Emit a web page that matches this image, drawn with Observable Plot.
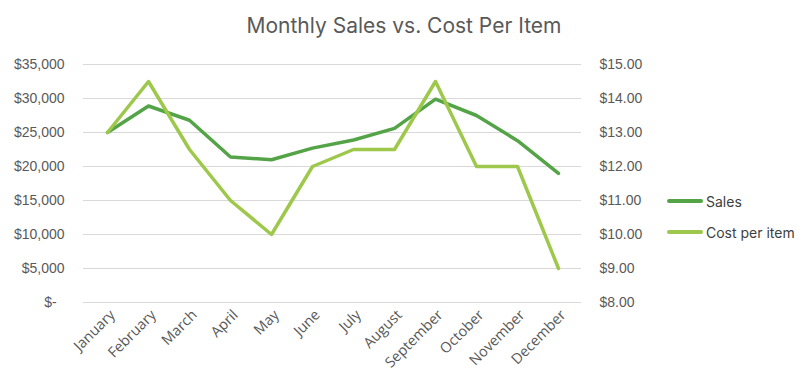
<!DOCTYPE html>
<html>
<head>
<meta charset="utf-8">
<script src="https://cdn.jsdelivr.net/npm/d3@7"></script>
<script src="https://cdn.jsdelivr.net/npm/@observablehq/plot@0.6"></script>
<style>
  body { margin: 0; background: #fff; }
  #wrap { position: relative; width: 804px; height: 380px; overflow: hidden; }
  #title { height: 44px; box-sizing: border-box; padding-top: 15px; text-align: center; padding-left: 4px;
           font-family: Inter, "Open Sans", sans-serif; font-size: 21px; line-height: 1; color: #595959; }
  #legend { position: absolute; left: 667px; top: 192px; font-family: Inter, "Open Sans", sans-serif;
            font-size: 14px; color: #404040; }
  .item { display: flex; align-items: center; height: 18px; margin-bottom: 13px; }
  .sw { width: 36px; height: 4px; border-radius: 2px; margin-right: 3px; }
</style>
</head>
<body>
<div id="wrap">
  <div id="title">Monthly Sales vs. Cost Per Item</div>
  <div id="chart"></div>
  <div id="legend"></div>
</div>
<script>
const months = ["January","February","March","April","May","June","July","August","September","October","November","December"];
const sales = [25000, 28900, 26800, 21400, 21000, 22700, 23900, 25600, 29900, 27500, 23800, 19000];
const cost = [13.0, 14.5, 12.5, 11.0, 10.0, 12.0, 12.5, 12.5, 14.5, 12.0, 12.0, 9.0];
const salesTicks = [0, 5000, 10000, 15000, 20000, 25000, 30000, 35000];
const costTicks = [8, 9, 10, 11, 12, 13, 14, 15];
const seriesNames = ["Sales", "Cost per item"];
const seriesColors = ["#54A447", "#9DC84B"];

// map cost (8..15) onto the sales scale (0..35000)
const costMin = 8, costFactor = 5000;
const toY = c => (c - costMin) * costFactor;

const data = months.map((m, i) => ({month: m, sales: sales[i], cost: cost[i], costY: toY(cost[i])}));

const chart = Plot.plot({
  width: 804,
  height: 336,
  marginTop: 20,
  marginBottom: 78,
  marginLeft: 83,
  marginRight: 223,
  style: {fontFamily: "'Liberation Sans', Arial, sans-serif", fontSize: "14px", color: "#595959", background: "#fff"},
  x: {type: "point", domain: months, padding: 0.5},
  y: {domain: [0, 35000]},
  marks: [
    Plot.gridY(salesTicks, {stroke: "#d9d9d9", strokeOpacity: 1, strokeWidth: 1}),
    Plot.axisY(salesTicks, {anchor: "left", tickSize: 0, tickPadding: 19, label: null,
      tickFormat: d => d === 0 ? "$-\u00a0\u00a0" : "$" + d3.format(",")(d)}),
    Plot.axisY(costTicks.map(toY), {anchor: "right", tickSize: 0, tickPadding: 18, label: null,
      tickFormat: d => "$" + (d / costFactor + costMin).toFixed(2)}),
    Plot.axisX({tickRotate: -45, tickSize: 0, tickPadding: 10, dx: 5, label: null, fontSize: 14.5,
      fontFamily: "'Open Sans', sans-serif"}),
    Plot.line(data, {x: "month", y: "sales", stroke: seriesColors[0], strokeWidth: 3.5}),
    Plot.line(data, {x: "month", y: "costY", stroke: seriesColors[1], strokeWidth: 3.5})
  ]
});
document.getElementById("chart").appendChild(chart);

const legend = document.getElementById("legend");
seriesNames.forEach((n, i) => {
  const it = document.createElement("div");
  it.className = "item";
  const sw = document.createElement("div");
  sw.className = "sw";
  sw.style.background = seriesColors[i];
  const t = document.createElement("span");
  t.textContent = n;
  it.appendChild(sw); it.appendChild(t);
  legend.appendChild(it);
});
</script>
</body>
</html>
